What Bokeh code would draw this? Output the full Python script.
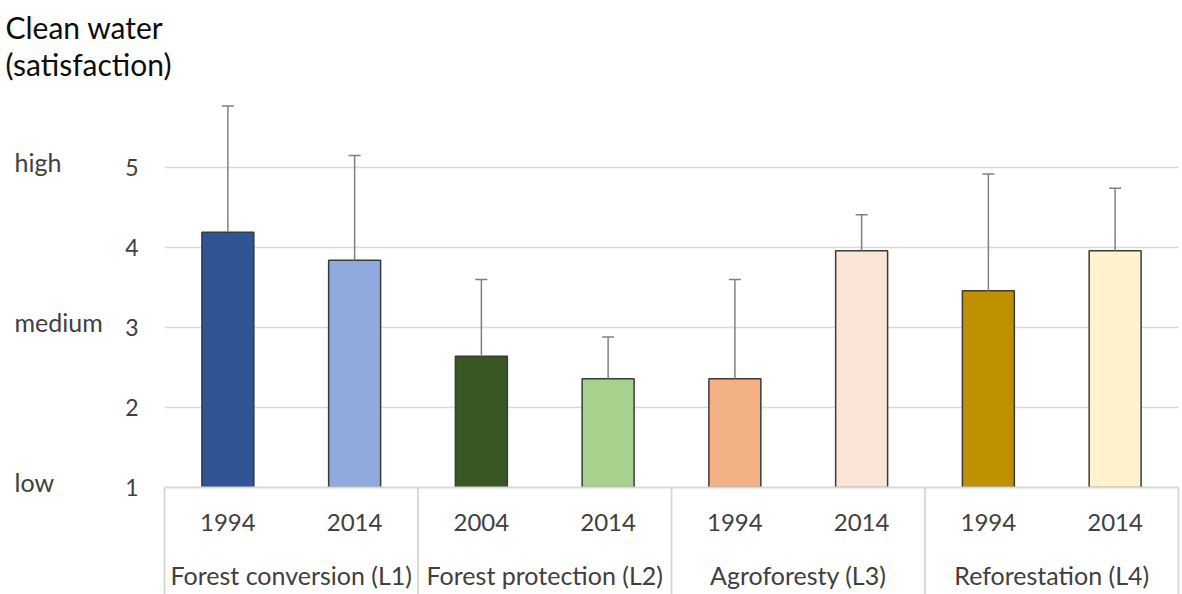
from bokeh.plotting import figure
from bokeh.models import (Range1d, ColumnDataSource, LinearAxis,
                          FixedTicker, Whisker, TeeHead)
from bokeh.core.properties import value
from bokeh.embed import file_html
from bokeh.resources import INLINE

# ---- data ----
groups = ["Forest conversion (L1)", "Forest protection (L2)",
          "Agroforesty (L3)", "Reforestation (L4)"]
bar_group = [0, 0, 1, 1, 2, 2, 3, 3]
years = ["1994", "2014", "2004", "2014", "1994", "2014", "1994", "2014"]
means = [4.19, 3.84, 2.64, 2.36, 2.36, 3.96, 3.46, 3.96]
sd = [1.58, 1.31, 0.96, 0.52, 1.24, 0.45, 1.46, 0.78]
colors = ["#2F5597", "#8FAADC", "#385723", "#A9D18E",
          "#F4B183", "#FBE5D6", "#BF9000", "#FFF2CC"]
y_ticks = [1, 2, 3, 4, 5]
level_labels = ["low", "medium", "high"]
level_values = [1, 3, 5]
title_text = "Clean water\n(satisfaction)"

FONT = "Lato"
TXT = "#404040"
GRID = "#d9d9d9"

n = len(means)
bar_x = [2 * i + 1 for i in range(n)]            # slot centres (2 units per slot)
upper = [m + s for m, s in zip(means, sd)]
group_x = [sum(x for x, g in zip(bar_x, bar_group) if g == k) // bar_group.count(k)
           for k in range(len(groups))]
sep_x = [0] + [2 * i for i in range(1, n) if bar_group[i] != bar_group[i - 1]] + [2 * n]

p = figure(width=1182, height=594,
           x_range=Range1d(0, 2 * n), y_range=Range1d(1, 6),
           output_backend="svg", toolbar_location=None,
           min_border_left=164, min_border_right=4,
           min_border_top=87, min_border_bottom=107,
           outline_line_color=None, title=title_text)

p.title.text_font = FONT
p.title.text_font_size = "30px"
p.title.text_font_style = "normal"
p.title.text_color = "#0d0d0d"
p.title.align = "left"
p.title.offset = -159
p.title.text_line_height = 1.03
p.title.standoff = 10

src = ColumnDataSource(dict(x=bar_x, top=means, upper=upper, color=colors))
p.vbar(x="x", top="top", bottom=1, width=0.82, fill_color="color",
       line_color="#3a3a3a", line_width=1.5, source=src)

w = Whisker(source=src, base="x", lower="top", upper="upper",
            line_color="#808080", line_width=1.5,
            upper_head=TeeHead(size=12, line_color="#808080", line_width=1.5),
            lower_head=None, level="overlay")
p.add_layout(w)

# group separators (category boundaries), extending below the plot area
p.segment(x0=sep_x, y0=[1] * len(sep_x), x1=sep_x, y1=[-5] * len(sep_x),
          line_color=GRID, line_width=2, level="overlay")

# qualitative scale labels
p.text(x=[-1.183 * 2] * len(level_values), y=level_values, text=level_labels,
       text_font=value(FONT), text_font_size="25px", text_color=TXT,
       text_baseline="alphabetic", text_align="left", y_offset=-6, level="overlay")

# x axis: years
xa = p.xaxis[0]
xa.ticker = FixedTicker(ticks=bar_x)
xa.major_label_overrides = {x: y for x, y in zip(bar_x, years)}
xa.axis_line_color = GRID
xa.axis_line_width = 2
xa.major_tick_line_color = None
xa.minor_tick_line_color = None
xa.major_label_standoff = 20
xa.major_label_text_font = FONT
xa.major_label_text_font_size = "24px"
xa.major_label_text_color = TXT

# second x axis: land-use groups
ga = LinearAxis(ticker=FixedTicker(ticks=group_x),
                major_label_overrides={x: g for x, g in zip(group_x, groups)},
                axis_line_color=None,
                major_tick_line_color=None, minor_tick_line_color=None,
                major_label_standoff=20, major_label_text_font=FONT,
                major_label_text_font_size="25px", major_label_text_color=TXT)
p.add_layout(ga, "below")

ya = p.yaxis[0]
ya.ticker = FixedTicker(ticks=y_ticks)
ya.axis_line_color = None
ya.major_tick_line_color = None
ya.minor_tick_line_color = None
ya.major_label_standoff = 20
ya.major_label_text_font = FONT
ya.major_label_text_font_size = "23px"
ya.major_label_text_color = TXT

p.xgrid.visible = False
p.ygrid.ticker = FixedTicker(ticks=y_ticks[1:])
p.ygrid.grid_line_color = GRID
p.ygrid.grid_line_width = 1.5

open("out.html", "w").write(file_html(p, INLINE))
